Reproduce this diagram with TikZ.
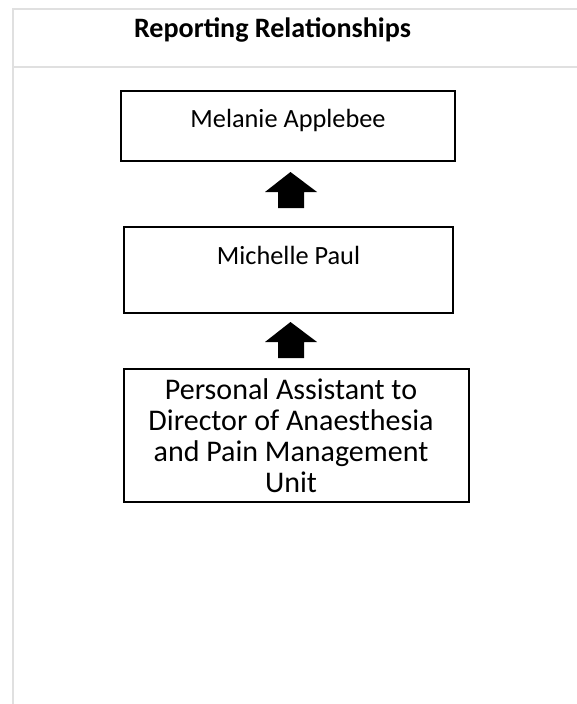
\documentclass[tikz,border=0pt]{standalone}
\usepackage{fontspec}
\setmainfont{Carlito}
\definecolor{framegray}{RGB}{224,224,224}
\begin{document}
\begin{tikzpicture}[x=1pt,y=-1pt,
  frameline/.style={draw=framegray,line width=2pt},
  orgbox/.style={draw=black,line width=1.6pt,rectangle,inner sep=0pt},
  boxtext/.style={inner sep=0pt,font=\fontsize{26.3}{31}\selectfont},
  bigtext/.style={inner sep=0pt,align=center,font=\fontsize{30}{31}\selectfont},
  blockarrow/.style={fill=black}]
\useasboundingbox (0,0) rectangle (577,704);
% table frame
\coordinate (fl) at (13,704);
\coordinate (ftl) at (13,8.5);
\coordinate (ftr) at (577,8.5);
\coordinate (fml) at (13,67);
\coordinate (fmr) at (577,67);
\draw[frameline] (fl) -- (ftl) -- (ftr);
\draw[frameline] (fml) -- (fmr);
% title
\node[inner sep=0pt,anchor=base,font=\fontsize{28.1}{32}\selectfont\bfseries] (title) at (272.5,37) {Reporting Relationships};
% boxes
\node[orgbox,minimum width=334,minimum height=70] (b1) at (288,126) {};
\node[boxtext,anchor=base] (t1) at (288,127) {Melanie Applebee};
\node[orgbox,minimum width=329,minimum height=86] (b2) at (288.5,270) {};
\node[boxtext,anchor=base] (t2) at (288.5,264) {Michelle Paul};
\node[orgbox,minimum width=345,minimum height=133] (b3) at (296.5,435.5) {};
\node[bigtext] (t3) at (291,435.5) {Personal Assistant to\\Director of Anaesthesia\\and Pain Management\\Unit};
% block arrows
\coordinate (a1) at (290.5,172);
\fill[blockarrow] (a1) -- ++(26.5,20) -- ++(-13,0) -- ++(0,16) -- ++(-26,0) -- ++(0,-16) -- ++(-13,0) -- cycle;
\coordinate (a2) at (290.5,322);
\fill[blockarrow] (a2) -- ++(26.5,20) -- ++(-13,0) -- ++(0,16) -- ++(-26,0) -- ++(0,-16) -- ++(-13,0) -- cycle;
\end{tikzpicture}
\end{document}
